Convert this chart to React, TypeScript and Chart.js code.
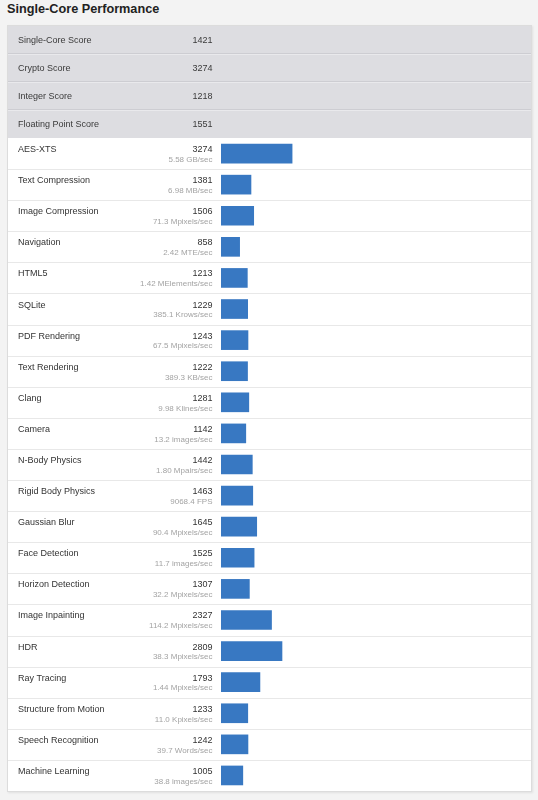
import { useEffect, useRef } from 'react';
import { Chart, registerables } from 'chart.js';

Chart.register(...registerables);

const summaryLabels = ['Single-Core Score', 'Crypto Score', 'Integer Score', 'Floating Point Score'];
const summaryScores = [1421, 3274, 1218, 1551];

const workloads = [
  'AES-XTS', 'Text Compression', 'Image Compression', 'Navigation', 'HTML5', 'SQLite',
  'PDF Rendering', 'Text Rendering', 'Clang', 'Camera', 'N-Body Physics', 'Rigid Body Physics',
  'Gaussian Blur', 'Face Detection', 'Horizon Detection', 'Image Inpainting', 'HDR',
  'Ray Tracing', 'Structure from Motion', 'Speech Recognition', 'Machine Learning',
];
const workloadScores = [
  3274, 1381, 1506, 858, 1213, 1229, 1243, 1222, 1281, 1142, 1442, 1463,
  1645, 1525, 1307, 2327, 2809, 1793, 1233, 1242, 1005,
];
const workloadRates = [
  '5.58 GB/sec', '6.98 MB/sec', '71.3 Mpixels/sec', '2.42 MTE/sec', '1.42 MElements/sec',
  '385.1 Krows/sec', '67.5 Mpixels/sec', '389.3 KB/sec', '9.98 Klines/sec', '13.2 images/sec',
  '1.80 Mpairs/sec', '9068.4 FPS', '90.4 Mpixels/sec', '11.7 images/sec', '32.2 Mpixels/sec',
  '114.2 Mpixels/sec', '38.3 Mpixels/sec', '1.44 Mpixels/sec', '11.0 Kpixels/sec',
  '39.7 Words/sec', '38.8 images/sec',
];

const FONT = '"Liberation Sans", Arial, Helvetica, sans-serif';
const HEADER_ROW = 28;
const LABEL_X = 10;
const VALUE_X = 204.5;

// draws the grey summary block, the row lines and all text of the table
const tablePlugin = {
  id: 'benchTable',
  beforeDraw(chart: any) {
    const { ctx, width, height } = chart;
    const y = chart.scales.y;
    ctx.save();
    ctx.fillStyle = '#ffffff';
    ctx.fillRect(0, 0, width, height);

    // summary rows
    ctx.fillStyle = '#dddde1';
    ctx.fillRect(0, 0, width, HEADER_ROW * summaryLabels.length);
    for (let i = 1; i < summaryLabels.length; i++) {
      ctx.fillStyle = '#cdcdd2';
      ctx.fillRect(0, i * HEADER_ROW - 1, width, 1);
      ctx.fillStyle = '#e9e9ec';
      ctx.fillRect(0, i * HEADER_ROW, width, 1);
    }
    ctx.font = `9px ${FONT}`;
    ctx.textBaseline = 'middle';
    summaryLabels.forEach((label, i) => {
      const cy = i * HEADER_ROW + HEADER_ROW / 2 + 0.5;
      ctx.fillStyle = '#3a3a3a';
      ctx.textAlign = 'left';
      ctx.fillText(label, LABEL_X, cy);
      ctx.textAlign = 'right';
      ctx.fillText(String(summaryScores[i]), VALUE_X, cy);
    });

    // workload rows
    const band = (chart.chartArea.bottom - chart.chartArea.top) / workloads.length;
    ctx.textBaseline = 'alphabetic';
    workloads.forEach((name, i) => {
      const cy = y.getPixelForValue(i);
      if (i > 0) {
        ctx.fillStyle = '#e8e8e8';
        ctx.fillRect(0, Math.round(cy - band / 2), width, 1);
      }
      ctx.font = `9px ${FONT}`;
      ctx.fillStyle = '#333333';
      ctx.textAlign = 'left';
      ctx.fillText(name, LABEL_X, cy - 1.5);
      ctx.textAlign = 'right';
      ctx.fillText(String(workloadScores[i]), VALUE_X, cy - 1.5);
      ctx.font = `8px ${FONT}`;
      ctx.fillStyle = '#a3a3a3';
      ctx.fillText(workloadRates[i], VALUE_X, cy + 8.3);
    });
    ctx.restore();
  },
};

const BenchChart = () => {
  const canvasRef = useRef<HTMLCanvasElement | null>(null);

  useEffect(() => {
    if (!canvasRef.current) return;
    const chart = new Chart(canvasRef.current, {
      type: 'bar',
      data: {
        labels: workloads,
        datasets: [{
          data: workloadScores,
          backgroundColor: '#3878c2',
          borderWidth: 0,
          barThickness: 19,
        }],
      },
      options: {
        indexAxis: 'y',
        animation: false,
        responsive: true,
        maintainAspectRatio: false,
        layout: { padding: { left: 213, right: 6, top: 112, bottom: 0 } },
        scales: {
          x: { display: false, min: 0, max: 14000 },
          y: { display: false },
        },
        plugins: {
          legend: { display: false },
          tooltip: { enabled: false },
        },
      },
      plugins: [tablePlugin],
    });
    return () => chart.destroy();
  }, []);

  return <canvas ref={canvasRef}></canvas>;
};

export default function App() {
  return (
    <div style={{ position: 'absolute', left: 0, top: 0, width: 538, height: 800, background: '#f3f3f3', fontFamily: FONT }}>
      <div style={{ position: 'absolute', left: 7, top: 1, fontSize: 12.7, fontWeight: 'bold', color: '#222', lineHeight: '17px' }}>
        Single-Core Performance
      </div>
      <div style={{
        position: 'absolute', left: 7, top: 25, width: 523, height: 765,
        border: '1px solid #dcdcdc', boxShadow: '1px 1px 2px rgba(0,0,0,0.08)', background: '#fff',
      }}>
        <BenchChart />
      </div>
    </div>
  );
}
